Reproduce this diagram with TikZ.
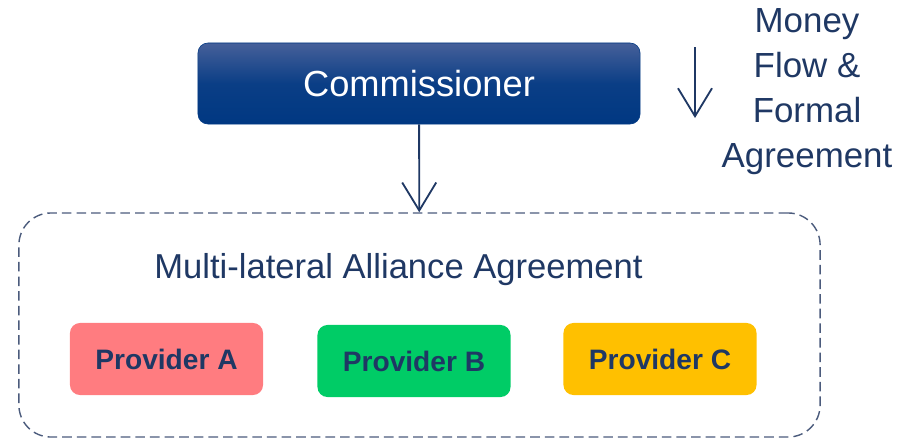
\documentclass[tikz,border=0pt]{standalone}
\usepackage{fontspec}
\setmainfont{Liberation Sans}
\usetikzlibrary{arrows.meta}
\definecolor{navy}{HTML}{1F3864}
\definecolor{commtop}{HTML}{46609A}
\definecolor{commbot}{HTML}{003882}
\definecolor{dashcol}{HTML}{4B5B7C}
\definecolor{provA}{HTML}{FF7C80}
\definecolor{provB}{HTML}{00CC66}
\definecolor{provC}{HTML}{FFC000}
\begin{document}
\begin{tikzpicture}[x=0.025cm,y=-0.025cm,
    flow/.style={line width=1.3pt,draw=navy,-{Straight Barb[length=0.7cm,width=0.85cm,line width=1.3pt]}},
    provider/.style={rounded corners=0.25cm,minimum width=4.825cm,minimum height=1.8cm,
      text=navy,font=\fontsize{20}{24}\selectfont\bfseries}]
      \useasboundingbox (0,0) rectangle (912,441);
      \node[draw=commbot,top color=commtop,bottom color=commbot,middle color=commbot!85!commtop,
        rounded corners=0.25cm,minimum width=11.05cm,minimum height=2.025cm,text=white,
        font=\fontsize{25.8}{30}\selectfont] (comm) at (419,83.5) {Commissioner};
      \node[draw=dashcol,line width=1pt,dash pattern=on 6.8pt off 3.6pt,rounded corners=0.8cm,
        minimum width=20.025cm,minimum height=5.6cm] (alliance) at (419.5,325) {};
      \node[anchor=base,text=navy,font=\fontsize{24.6}{30}\selectfont] (title) at (398.5,278)
        {Multi-lateral Alliance Agreement};
      \node[provider,fill=provA] (pa) at (166.5,359) {Provider A};
      \node[provider,fill=provB] (pb) at (414,361) {Provider B};
      \node[provider,fill=provC] (pc) at (660,359) {Provider C};
      \draw[flow] (comm) -- (alliance);
      % legend on the right
      \coordinate (ftop) at (695,47);
      \coordinate (fbot) at (695,118);
      \draw[flow] (ftop) -- (fbot);
      \node[align=center,text=navy,font=\fontsize{24.8}{31.8}\selectfont,anchor=north] (legend)
        at (807,4) {Money\\Flow \&\\Formal\\Agreement};
    \end{tikzpicture}
\end{document}
